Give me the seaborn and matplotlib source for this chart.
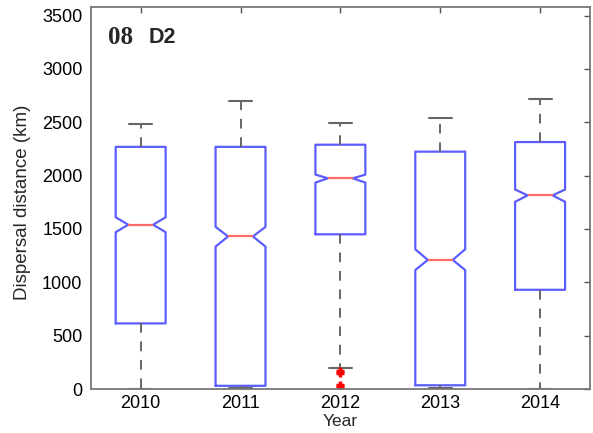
import numpy as np
import matplotlib
matplotlib.use("Agg")
import matplotlib.pyplot as plt
import seaborn as sns

# Box statistics (km)
years = ["2010", "2011", "2012", "2013", "2014"]
whislo = [0, 10, 195, 10, 0]
q1 = [615, 30, 1450, 35, 930]
med = [1540, 1430, 1975, 1210, 1815]
q3 = [2270, 2270, 2290, 2225, 2315]
whishi = [2480, 2700, 2495, 2545, 2715]
notch_lo = [1470, 1335, 1935, 1115, 1755]
notch_hi = [1610, 1520, 2010, 1310, 1870]
outliers = [[], [], [170, 150, 40, 20], [], []]

sns.set_style("white")
plt.rcParams["font.family"] = ["Liberation Sans", "DejaVu Sans"]

# stats table for the boxplot
stats = []
for i, yr in enumerate(years):
    stats.append({
        "label": yr, "whislo": whislo[i], "q1": q1[i], "med": med[i],
        "q3": q3[i], "whishi": whishi[i], "cilo": notch_lo[i],
        "cihi": notch_hi[i], "fliers": np.array(outliers[i]),
    })

fig = plt.figure(figsize=(5.93, 4.33), dpi=100)
ax = fig.add_axes([0.153, 0.1016, 0.842, 0.882])

ax.bxp(stats, positions=np.arange(1, 6), widths=0.5, capwidths=0.23,
       shownotches=True,
       boxprops=dict(color="#5c5cff", linewidth=1.6),
       medianprops=dict(color="#ff6a6a", linewidth=1.6),
       whiskerprops=dict(color="#666666", linewidth=1.4, linestyle=(0, (5, 4.5))),
       capprops=dict(color="#666666", linewidth=1.5),
       flierprops=dict(marker="+", markeredgecolor="red", markersize=6,
                       markeredgewidth=2.5, linestyle="none"))

ax.set_xlim(0.5, 5.5)
ax.set_ylim(0, 3580)
ax.set_yticks(np.arange(0, 3501, 500))
ax.set_xticks(np.arange(1, 6))
ax.set_xticklabels(years)

for s in ax.spines.values():
    s.set_visible(True)
    s.set_color("#777777")
    s.set_linewidth(1.3)
ax.tick_params(direction="in", length=4, width=1, color="#555555",
               top=True, right=True, labelsize=13, pad=6, labelcolor="black")
ax.tick_params(axis="x", pad=4)

ax.set_ylabel("Dispersal distance (km)", fontsize=13.5)
ax.yaxis.set_label_coords(-0.136, 0.49)
ax.yaxis.label.set_va("center")
ax.set_xlabel("Year", fontsize=12.5)
ax.xaxis.set_label_coords(0.5, -0.084)
ax.xaxis.label.set_va("center")

ax.text(0.034, 0.921, "08", transform=ax.transAxes, fontsize=18,
        fontweight="bold", family="Liberation Serif", va="center")
ax.text(0.116, 0.921, "D2", transform=ax.transAxes, fontsize=15.5,
        fontweight="bold", va="center")

fig.savefig("out.png", dpi=100)
